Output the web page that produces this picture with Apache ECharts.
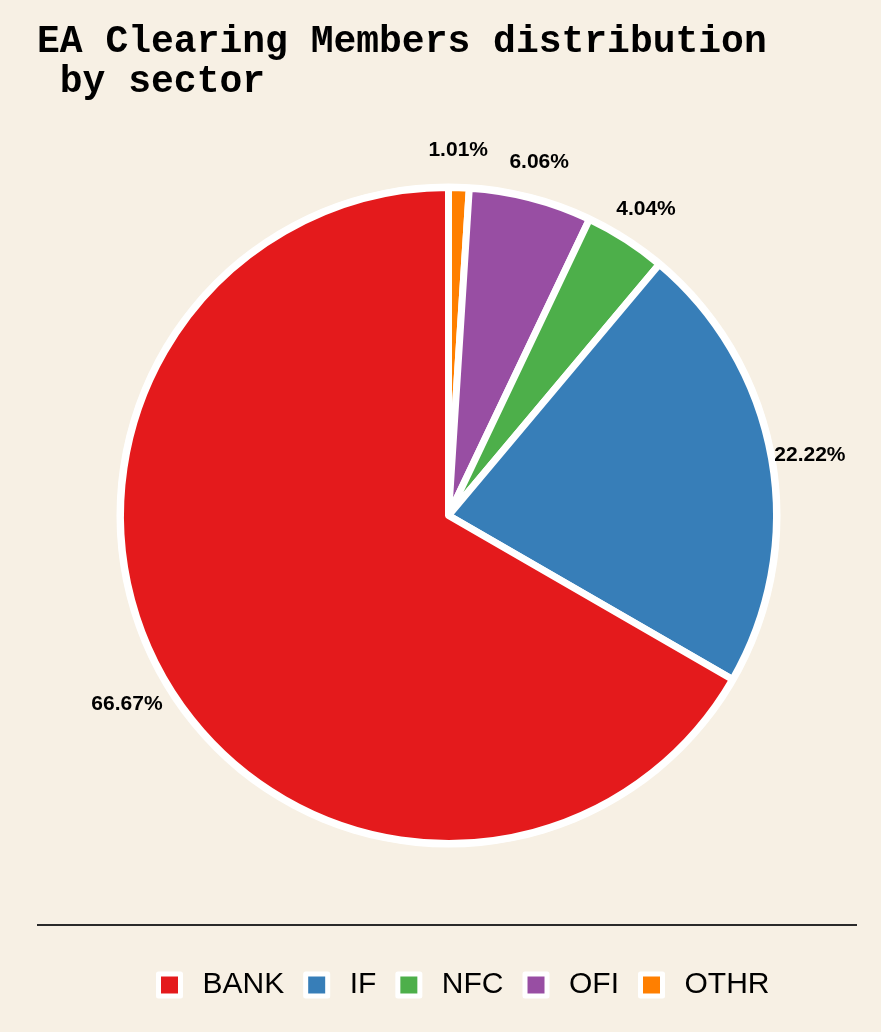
<!DOCTYPE html>
<html>
<head>
<meta charset="utf-8">
<title>EA Clearing Members distribution by sector</title>
<script src="https://cdn.jsdelivr.net/npm/echarts@6/dist/echarts.min.js"></script>
<style>
  html, body { margin: 0; padding: 0; background: #F7F0E4; }
  #chart { width: 881px; height: 1032px; }
</style>
</head>
<body>
<div id="chart"></div>
<script>
// Sectors in clockwise drawing order starting at 12 o'clock
const sectors = ['OTHR', 'OFI', 'NFC', 'IF', 'BANK'];
// Share of clearing members per sector (%)
const shares = [1.01, 6.06, 4.04, 22.22, 66.67];
// Legend order
const legendOrder = ['BANK', 'IF', 'NFC', 'OFI', 'OTHR'];
// Set1 palette per sector
const sectorColors = {
  BANK: '#E41A1C',
  IF: '#377EB8',
  NFC: '#4DAF4A',
  OFI: '#984EA3',
  OTHR: '#FF7F00'
};

const pieData = sectors.map((name, i) => ({
  name: name,
  value: shares[i],
  itemStyle: { color: sectorColors[name] }
}));

const center = [448.5, 515.5];
const pieRadius = 328;

const chart = echarts.init(document.getElementById('chart'), null, { renderer: 'canvas' });

chart.setOption({
  backgroundColor: '#F7F0E4',
  animation: false,
  title: {
    text: 'EA Clearing Members distribution\n by sector',
    left: 37,
    top: 22,
    padding: 0,
    textStyle: {
      fontFamily: '"Liberation Mono", "Courier New", monospace',
      fontWeight: 'bold',
      fontSize: 38,
      lineHeight: 40,
      color: '#000'
    }
  },
  legend: {
    data: legendOrder,
    left: 156,
    top: 970,
    padding: 0,
    orient: 'horizontal',
    icon: 'rect',
    itemWidth: 22,
    itemHeight: 22,
    itemGap: 19,
    itemStyle: { borderColor: '#ffffff', borderWidth: 5 },
    textStyle: {
      fontFamily: '"Liberation Sans", Arial, sans-serif',
      fontSize: 30,
      lineHeight: 30,
      color: '#000',
      padding: [0, 0, 0, 17]
    }
  },
  graphic: [
    {
      // white outline ring around the pie
      type: 'circle',
      shape: { cx: center[0], cy: center[1], r: pieRadius + 4 },
      style: { fill: '#ffffff' },
      z: 0,
      silent: true
    },
    {
      type: 'line',
      shape: { x1: 37, y1: 925, x2: 857, y2: 925 },
      style: { stroke: '#2a2a2a', lineWidth: 1.8 },
      silent: true
    }
  ],
  series: [
    {
      name: 'Sector',
      type: 'pie',
      center: center,
      radius: pieRadius,
      startAngle: 90,
      clockwise: true,
      data: pieData,
      itemStyle: { borderColor: '#ffffff', borderWidth: 7 },
      label: { show: false },
      labelLine: { show: false },
      emphasis: { disabled: true }
    },
    {
      // Ring carrying the percentage labels just outside the pie
      name: 'Labels',
      type: 'pie',
      center: [center[0] - 2, center[1] + 4],
      radius: [351, 381],
      startAngle: 90,
      clockwise: true,
      silent: true,
      data: sectors.map((name, i) => ({ name: name, value: shares[i] })),
      itemStyle: { color: 'transparent', borderWidth: 0 },
      label: {
        show: true,
        position: 'inside',
        formatter: (p) => p.value.toFixed(2) + '%',
        fontFamily: '"Liberation Sans", Arial, sans-serif',
        fontWeight: 'bold',
        fontSize: 21,
        color: '#000'
      },
      labelLine: { show: false },
      emphasis: { disabled: true }
    }
  ]
});
</script>
</body>
</html>
